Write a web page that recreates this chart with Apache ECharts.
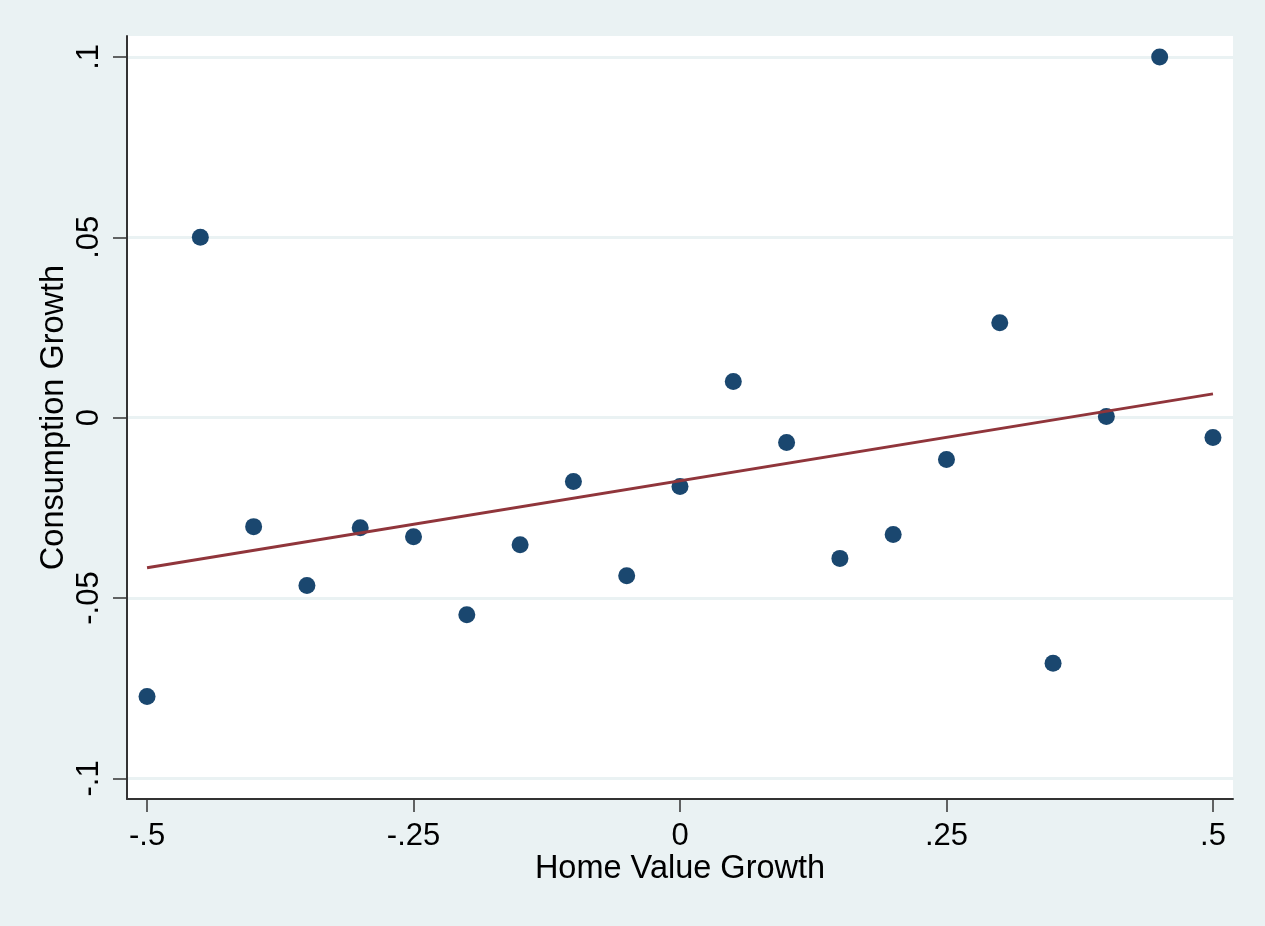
<!DOCTYPE html>
<html>
<head>
<meta charset="utf-8">
<script src="https://cdn.jsdelivr.net/npm/echarts@6/dist/echarts.min.js"></script>
<style>
  html, body { margin: 0; padding: 0; background: #EAF2F3; }
  #chart { width: 1265px; height: 926px; }
</style>
</head>
<body>
<div id="chart"></div>
<script>
// Home value growth (x) versus consumption growth (y), one dot per group
const homeValueGrowth = [-0.5, -0.45, -0.4, -0.35, -0.3, -0.25, -0.2, -0.15, -0.1, -0.05,
  0, 0.05, 0.1, 0.15, 0.2, 0.25, 0.3, 0.35, 0.4, 0.45, 0.5];
const consumptionGrowth = [-0.0773, 0.05, -0.0302, -0.0465, -0.0305, -0.0330, -0.0546, -0.0352, -0.0177, -0.0438,
  -0.0191, 0.0100, -0.0069, -0.0390, -0.0324, -0.0116, 0.0263, -0.0681, 0.0003, 0.1, -0.0055];

// Linear fit, drawn between its two end points
const fitX = [-0.5, 0.5];
const fitY = [-0.0416, 0.0066];

// Tick positions
const xTicks = [-0.5, -0.25, 0, 0.25, 0.5];
const yTicks = [-0.1, -0.05, 0, 0.05, 0.1];

const FONT = '"Liberation Sans", Arial, sans-serif';

// Stata-style number labels: drop the leading zero (".25", "-.05")
function fmt(v) {
  const s = String(Math.round(v * 1000) / 1000);
  return s.replace(/^(-?)0\./, '$1.');
}

const scatterData = homeValueGrowth.map((x, i) => [x, consumptionGrowth[i]]);
const fitData = fitX.map((x, i) => [x, fitY[i]]);

const chart = echarts.init(document.getElementById('chart'), null, { renderer: 'canvas' });
chart.setOption({
  backgroundColor: '#EAF2F3',
  animation: false,
  grid: {
    left: 127, right: 32, top: 36, bottom: 127,
    show: true, backgroundColor: '#FFFFFF', borderWidth: 0
  },
  xAxis: {
    type: 'value',
    min: -0.5188, max: 0.5188,
    name: 'Home Value Growth',
    nameLocation: 'middle',
    nameGap: 54,
    nameMoveOverlap: false,
    nameTextStyle: { fontFamily: FONT, fontSize: 32.5, color: '#000' },
    axisLine: { show: true, onZero: false, lineStyle: { color: '#333', width: 2 } },
    axisTick: { show: true, length: 13, customValues: xTicks, lineStyle: { color: '#333', width: 1.5 } },
    axisLabel: {
      customValues: xTicks, formatter: fmt, margin: 22,
      fontFamily: FONT, fontSize: 31, color: '#000'
    },
    splitLine: { show: false }
  },
  yAxis: {
    type: 'value',
    min: -0.1057, max: 0.1058,
    name: 'Consumption Growth',
    nameLocation: 'middle',
    nameRotate: 90,
    nameGap: 56,
    nameMoveOverlap: false,
    nameTextStyle: { fontFamily: FONT, fontSize: 32.5, color: '#000' },
    axisLine: { show: true, onZero: false, lineStyle: { color: '#333', width: 2 } },
    axisTick: { show: true, length: 14, customValues: yTicks, lineStyle: { color: '#333', width: 1.5 } },
    axisLabel: {
      customValues: yTicks, formatter: fmt, rotate: 90, margin: 22,
      fontFamily: FONT, fontSize: 31, color: '#000'
    },
    splitLine: { show: true, lineStyle: { color: '#EAF2F3', width: 3 } }
  },
  series: [
    {
      type: 'scatter',
      data: scatterData,
      symbol: 'circle',
      symbolSize: 17,
      itemStyle: { color: '#1A476F', opacity: 1 },
      z: 2
    },
    {
      type: 'line',
      data: fitData,
      showSymbol: false,
      lineStyle: { color: '#90353B', width: 3 },
      z: 3
    }
  ]
});
</script>
</body>
</html>
